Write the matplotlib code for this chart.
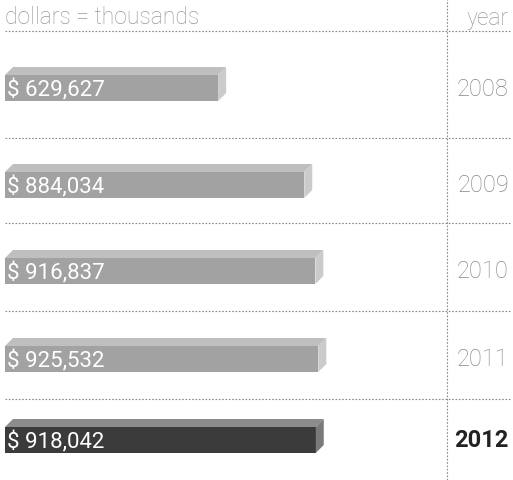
import matplotlib
matplotlib.use("Agg")
import matplotlib.pyplot as plt
from matplotlib.patches import Polygon

years = ["2008", "2009", "2010", "2011", "2012"]
values = [629627, 884034, 916837, 925532, 918042]
labels = ["$ 629,627", "$ 884,034", "$ 916,837", "$ 925,532", "$ 918,042"]
header_left = "dollars = thousands"
header_right = "year"

W, H = 513, 481
fig = plt.figure(figsize=(W / 100, H / 100), dpi=100)
ax = fig.add_axes([0, 0, 1, 1])
ax.set_axis_off()

px_per_unit = 3.385e-4  # pixels per dollar (thousand)
x0_px = 5
ax.set_xlim(-x0_px / px_per_unit, (W - x0_px) / px_per_unit)
ax.set_ylim(H, 0)

row_centers = [89, 186, 272, 360, 441]
sep_lines = [32, 139, 224, 312, 400]
bar_h = 26
depth_x = 8 / px_per_unit
depth_y = 8

font = ["Roboto", "DejaVu Sans"]

for i, (v, lab, yr) in enumerate(zip(values, labels, years)):
    last = (i == len(values) - 1)
    front = "#3b3b3b" if last else "#a2a2a2"
    topc = "#8c8c8c" if last else "#bfbfbf"
    sidec = "#7a7a7a" if last else "#cbcbcb"
    yc = row_centers[i]
    top = yc - bar_h / 2
    bot = yc + bar_h / 2
    ax.barh(yc, v, height=bar_h, left=0, color=front, edgecolor="none", zorder=3)
    ax.add_patch(Polygon([(0, top), (depth_x, top - depth_y), (v + depth_x, top - depth_y), (v, top)],
                         closed=True, facecolor=topc, edgecolor="none", zorder=3))
    ax.add_patch(Polygon([(v, top), (v + depth_x, top - depth_y), (v + depth_x, bot - depth_y), (v, bot)],
                         closed=True, facecolor=sidec, edgecolor="none", zorder=3))
    ax.text(0.014, yc + 1, lab, transform=ax.get_yaxis_transform(), color="white",
            fontsize=16, family=font, va="center", ha="left", zorder=4)
    ax.text(0.992, yc, yr, transform=ax.get_yaxis_transform(),
            color="#222222" if last else "#888888",
            fontsize=17, family=font, fontweight="bold" if last else "light",
            va="center", ha="right", zorder=4)

for y in sep_lines:
    ax.axhline(y, xmin=0.01, xmax=0.995, color="#8a8a8a", lw=0.8, ls=(0, (1.5, 1.5)), zorder=1)
ax.axvline((447 - x0_px) / px_per_unit, color="#8a8a8a", lw=0.8, ls=(0, (1.5, 1.5)), zorder=1)

ax.text(0.01, 18, header_left, transform=ax.get_yaxis_transform(), color="#9a9a9a",
        fontsize=16.5, family=font, fontweight="light", va="center", ha="left")
ax.text(0.992, 18, header_right, transform=ax.get_yaxis_transform(), color="#9a9a9a",
        fontsize=16.5, family=font, fontweight="light", va="center", ha="right")

fig.savefig("out.png", dpi=100, facecolor="white")
